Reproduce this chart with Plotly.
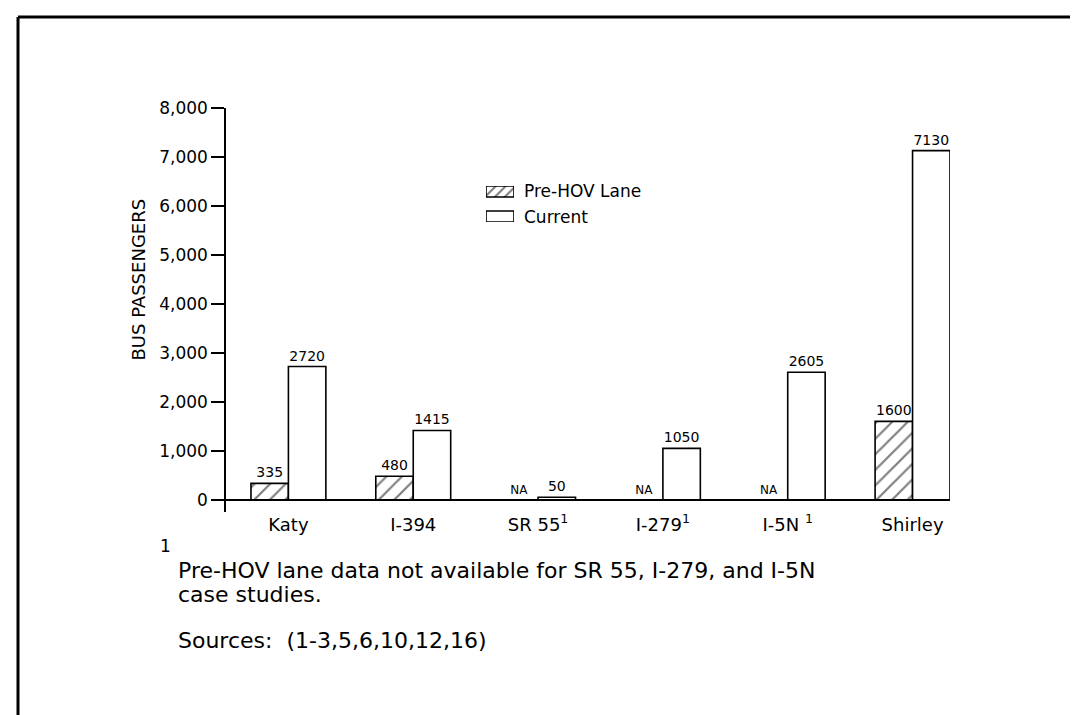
import plotly.graph_objects as go

# data
CORRIDORS = ["Katy", "I-394", "SR 55<sup>1</sup>", "I-279<sup>1</sup>", "I-5N <sup>1</sup>", "Shirley"]
PRE_HOV = [335, 480, None, None, None, 1600]
CURRENT = [2720, 1415, 50, 1050, 2605, 7130]
Y_TICKS = [0, 1000, 2000, 3000, 4000, 5000, 6000, 7000, 8000]
SERIES_NAMES = ["Pre-HOV Lane", "Current"]

FONT = "DejaVu Sans"
INK = "#000000"
W, H = 1078, 715
HATCH = dict(shape="/", fgcolor=INK, bgcolor="white", size=11, solidity=0.2)


def px_x(x):
    return x / W


def px_y(y):
    return 1 - y / H


pre_y = [v if v is not None else 0 for v in PRE_HOV]
pre_text = [f"{v}" if v is not None else "NA" for v in PRE_HOV]
pre_size = [14 if v is not None else 12 for v in PRE_HOV]

fig = go.Figure()
fig.add_trace(
    go.Bar(
        x=CORRIDORS,
        y=pre_y,
        name=SERIES_NAMES[0],
        text=pre_text,
        textposition="outside",
        textfont=dict(family=FONT, size=pre_size, color=INK),
        cliponaxis=False,
        marker=dict(color="white", line=dict(color=INK, width=1.6), pattern=HATCH),
    )
)
fig.add_trace(
    go.Bar(
        x=CORRIDORS,
        y=CURRENT,
        name=SERIES_NAMES[1],
        text=[str(v) for v in CURRENT],
        textposition="outside",
        textfont=dict(family=FONT, size=14, color=INK),
        cliponaxis=False,
        marker=dict(color="white", line=dict(color=INK, width=1.6)),
    )
)

# legend swatches: wide boxes like the original, drawn on a small hidden axis pair
# (y2 runs in pixel units from 214 at the bottom to 178 at the top)
fig.add_trace(
    go.Bar(
        x=[0, 0], y=[11, 11], base=[25, 0], width=1, offset=-0.5,
        xaxis="x2", yaxis="y2", showlegend=False, hoverinfo="skip",
        marker=dict(
            color="white",
            line=dict(color=INK, width=1.6),
            pattern=dict(shape=["/", ""], fgcolor=INK, bgcolor="white", size=7, solidity=0.3),
        ),
    )
)

fig.update_layout(
    width=W,
    height=H,
    margin=dict(l=0, r=0, t=0, b=0),
    paper_bgcolor="white",
    plot_bgcolor="white",
    barmode="group",
    bargap=0.4,
    bargroupgap=0,
    font=dict(family=FONT, size=17, color=INK),
    showlegend=False,
    xaxis=dict(
        domain=[px_x(218), px_x(942)],
        range=[-0.5, 5.3],
        showline=False,
        showgrid=False,
        zeroline=False,
        ticks="",
        tickfont=dict(family=FONT, size=18, color=INK),
        automargin=False,
    ),
    yaxis=dict(
        domain=[px_y(504), px_y(100)],
        range=[-250, 8000],
        tickvals=Y_TICKS,
        tickformat=",d",
        showline=True,
        linecolor=INK,
        linewidth=1.5,
        showgrid=False,
        zeroline=True,
        zerolinecolor=INK,
        zerolinewidth=1.5,
        ticks="outside",
        ticklen=13,
        tickwidth=1.5,
        tickcolor=INK,
        tickfont=dict(family=FONT, size=17, color=INK),
        automargin=False,
    ),
    xaxis2=dict(domain=[px_x(478), px_x(506)], range=[-0.5, 0.5], anchor="y2",
                visible=False, fixedrange=True),
    yaxis2=dict(domain=[px_y(214), px_y(178)], range=[0, 36], anchor="x2",
                visible=False, fixedrange=True),
)

for name, ypix in zip(SERIES_NAMES, [183, 209]):
    fig.add_annotation(
        text=name, x=px_x(514), y=px_y(ypix), xref="paper", yref="paper",
        xanchor="left", yanchor="middle", showarrow=False,
        font=dict(family=FONT, size=17, color=INK),
    )

fig.add_annotation(
    text="BUS PASSENGERS",
    x=px_x(117), y=px_y(272), xref="paper", yref="paper",
    textangle=-90, showarrow=False,
    font=dict(family=FONT, size=18, color=INK),
)

# footnote block
fig.add_annotation(
    text="1", x=px_x(150), y=px_y(550), xref="paper", yref="paper",
    showarrow=False, font=dict(family=FONT, size=17, color=INK),
)
notes = [
    ("Pre-HOV lane data not available for SR 55, I-279, and I-5N", 562),
    ("case studies.", 586),
    ("Sources:  (1-3,5,6,10,12,16)", 632),
]
for line, ypix in notes:
    fig.add_annotation(
        text=line, x=px_x(168), y=px_y(ypix), xref="paper", yref="paper",
        xanchor="left", yanchor="middle", showarrow=False,
        font=dict(family=FONT, size=22, color=INK),
    )

# scanned page frame
frame = dict(color=INK, width=3)
fig.add_shape(type="line", xref="paper", yref="paper",
              x0=px_x(10), x1=px_x(1078), y0=px_y(9), y1=px_y(9), line=frame)
fig.add_shape(type="line", xref="paper", yref="paper",
              x0=px_x(10), x1=px_x(10), y0=px_y(9), y1=px_y(715), line=frame)
fig.add_shape(type="line", xref="paper", yref="paper",
              x0=px_x(1075), x1=px_x(1075), y0=px_y(9), y1=px_y(663),
              line=dict(color=INK, width=2))

fig.write_html("out.html")
